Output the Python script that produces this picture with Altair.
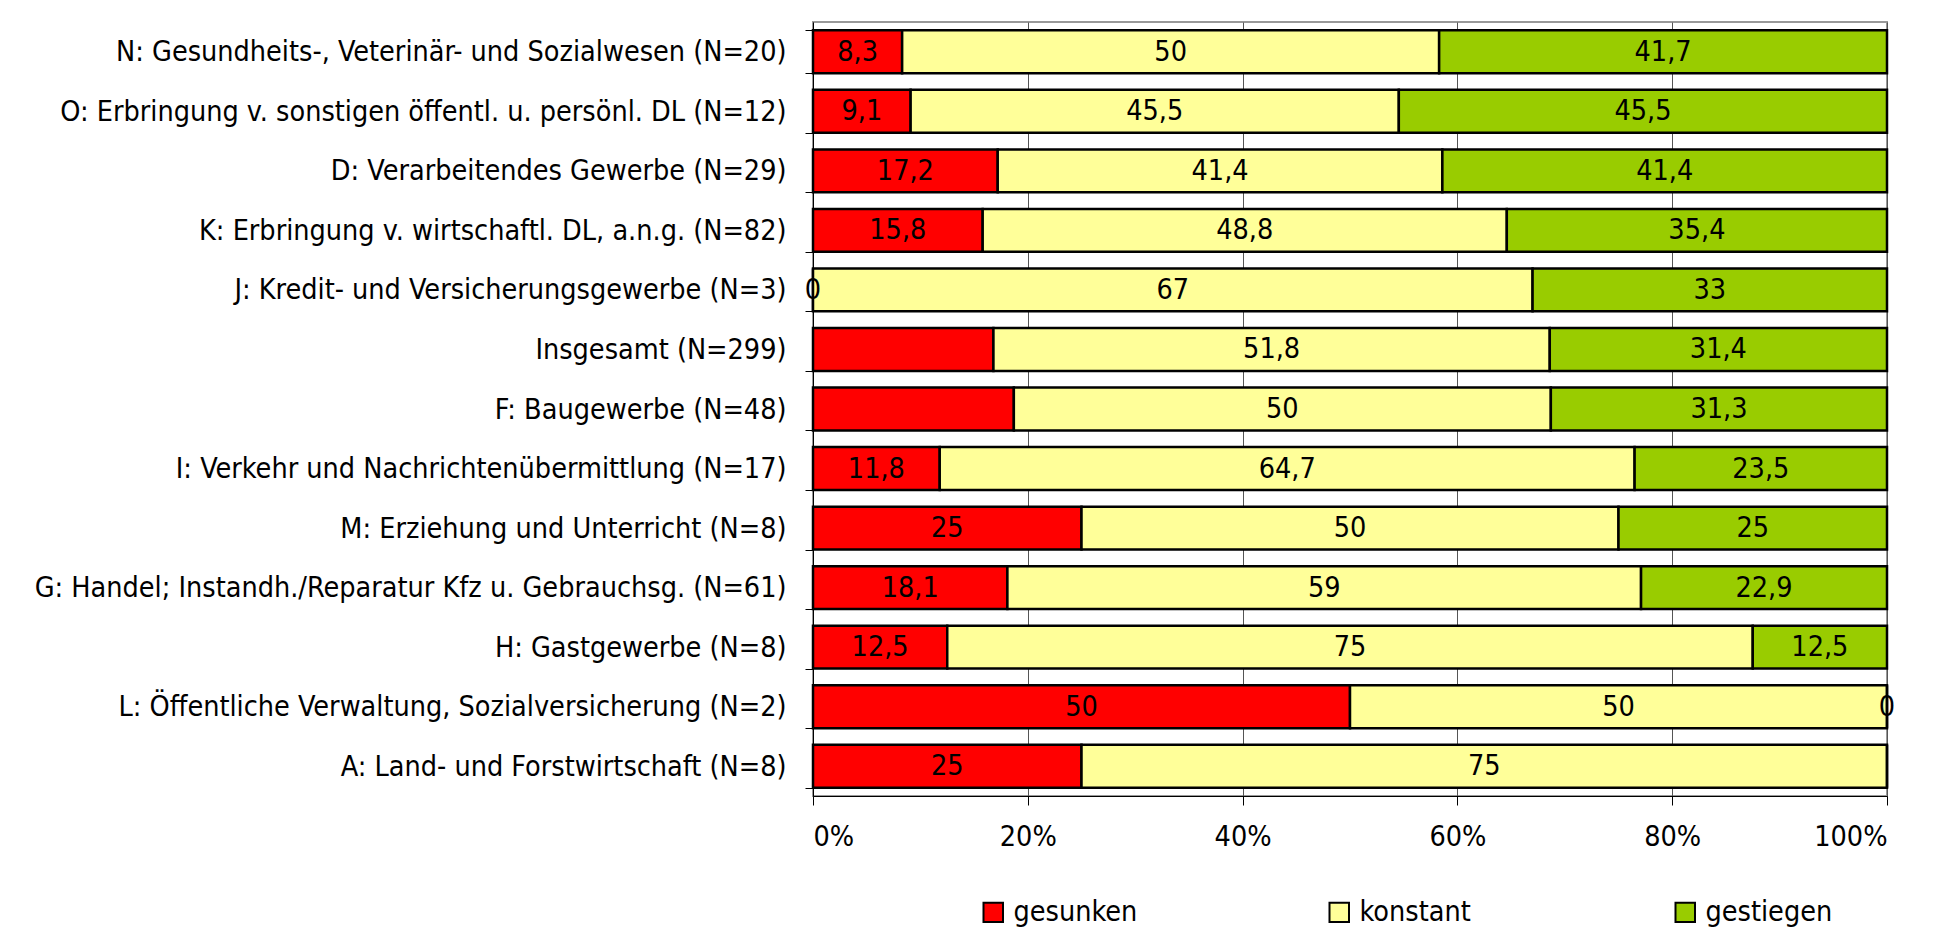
import altair as alt
import pandas as pd

categories = [
    "N: Gesundheits-, Veterinär- und Sozialwesen (N=20)",
    "O: Erbringung v. sonstigen öffentl. u. persönl. DL (N=12)",
    "D: Verarbeitendes Gewerbe (N=29)",
    "K: Erbringung v. wirtschaftl. DL, a.n.g. (N=82)",
    "J: Kredit- und Versicherungsgewerbe (N=3)",
    "Insgesamt (N=299)",
    "F: Baugewerbe (N=48)",
    "I: Verkehr und Nachrichtenübermittlung (N=17)",
    "M: Erziehung und Unterricht (N=8)",
    "G: Handel; Instandh./Reparatur Kfz u. Gebrauchsg. (N=61)",
    "H: Gastgewerbe (N=8)",
    "L: Öffentliche Verwaltung, Sozialversicherung (N=2)",
    "A: Land- und Forstwirtschaft (N=8)",
]
series = ["gesunken", "konstant", "gestiegen"]
colors = ["#FF0000", "#FFFF99", "#99CC00"]

gesunken = [8.3, 9.1, 17.2, 15.8, 0, 16.8, 18.7, 11.8, 25, 18.1, 12.5, 50, 25]
konstant = [50, 45.5, 41.4, 48.8, 67, 51.8, 50, 64.7, 50, 59, 75, 50, 75]
gestiegen = [41.7, 45.5, 41.4, 35.4, 33, 31.4, 31.3, 23.5, 25, 22.9, 12.5, 0, 0]

gesunken_labels = ["8,3", "9,1", "17,2", "15,8", "0", "", "", "11,8", "25", "18,1", "12,5", "50", "25"]
konstant_labels = ["50", "45,5", "41,4", "48,8", "67", "51,8", "50", "64,7", "50", "59", "75", "50", "75"]
gestiegen_labels = ["41,7", "45,5", "41,4", "35,4", "33", "31,4", "31,3", "23,5", "25", "22,9", "12,5", "0", ""]

rows = []
for s_idx, (name, vals, labs) in enumerate(zip(series,
                                                [gesunken, konstant, gestiegen],
                                                [gesunken_labels, konstant_labels, gestiegen_labels])):
    for cat, v, lab in zip(categories, vals, labs):
        rows.append({"cat": cat, "series": name, "idx": s_idx, "value": v, "label": lab})
df = pd.DataFrame(rows)

FONT = "Liberation Sans Narrow, Arial Narrow, DejaVu Sans Condensed, sans-serif"
FS = 28.5

base = alt.Chart(df).transform_stack(
    stack="value", groupby=["cat"], sort=[alt.SortField("idx", order="ascending")],
    as_=["x0", "x1"], offset="normalize"
).transform_calculate(mid="(datum.x0 + datum.x1) / 2")

yenc = alt.Y("cat:N", sort=categories, title=None,
             scale=alt.Scale(paddingInner=0.28, paddingOuter=0.14),
             axis=alt.Axis(labelFont=FONT, labelFontSize=FS, labelColor="black",
                           labelPadding=19, tickBand="extent", tickSize=8,
                           tickColor="black", domainColor="black", labelLimit=900,
                           minExtent=805, maxExtent=805, grid=False))

bars = base.mark_bar(stroke="black", strokeWidth=2.5).encode(
    x=alt.X("x0:Q", scale=alt.Scale(domain=[0, 1]), title=None,
            axis=alt.Axis(format=".0%", values=[0, 0.2, 0.4, 0.6, 0.8, 1.0],
                          labelFont=FONT, labelFontSize=FS, labelColor="black",
                          labelPadding=17, tickSize=9, tickColor="black",
                          domainColor="black", grid=True, gridColor="#555",
                          gridWidth=1)),
    x2="x1:Q",
    y=yenc,
    color=alt.Color("series:N", sort=series,
                    scale=alt.Scale(domain=series, range=colors),
                    legend=alt.Legend(title=None, orient="none", legendX=166, legendY=876,
                                      direction="horizontal", columns=3, gridAlign="all",
                                      columnPadding=184, symbolType="square", symbolSize=380,
                                      symbolStrokeColor="black", symbolStrokeWidth=2,
                                      labelFont=FONT, labelFontSize=FS, labelColor="black",
                                      labelOffset=6, padding=0)),
)

texts = base.mark_text(font=FONT, fontSize=FS, color="black", baseline="middle").encode(
    x=alt.X("mid:Q"),
    y=alt.Y("cat:N", sort=categories),
    text="label:N",
)

chart = alt.layer(bars, texts).properties(
    width=1074, height=774,
    padding={"left": 0, "top": 0, "right": 5, "bottom": 0},
).configure_view(stroke="#999", strokeWidth=2)

chart.save("out.html", embed_options={"renderer": "svg", "actions": False})
